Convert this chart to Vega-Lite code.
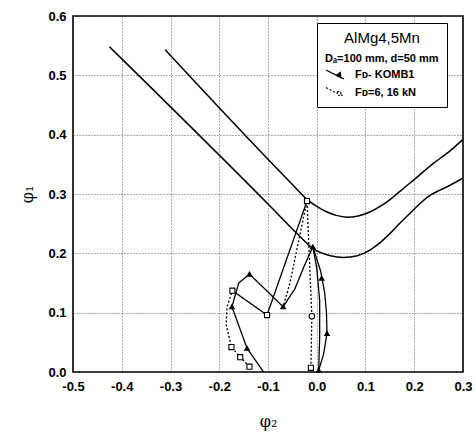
{
  "$schema": "https://vega.github.io/schema/vega-lite/v6.json",
  "width": 390,
  "height": 356,
  "autosize": {"type": "none"},
  "padding": {"left": 73, "top": 16, "right": 13, "bottom": 60},
  "config": {
    "view": {"stroke": "black", "strokeWidth": 1.6},
    "font": "Liberation Sans",
    "locale": {"number": {"decimal": ".", "thousands": ",", "grouping": [3], "currency": ["$", ""], "minus": "-"}},
    "axis": {
      "labelFont": "Liberation Sans",
      "labelFontSize": 13,
      "labelFontWeight": "bold",
      "labelColor": "black",
      "titleFont": "DejaVu Serif",
      "titleFontSize": 16,
      "titleFontWeight": "normal",
      "titleColor": "black",
      "grid": true,
      "gridColor": "#333",
      "gridDash": [1, 2],
      "gridWidth": 1,
      "gridOpacity": 0.8,
      "ticks": false,
      "domain": false
    }
  },
  "datasets": {
    "flc": [
      {"s": "U", "o": 1, "x": -0.311, "y": 0.543},
      {"s": "U", "o": 2, "x": -0.05, "y": 0.316},
      {"s": "U", "o": 3, "x": -0.02, "y": 0.291},
      {"s": "U", "o": 4, "x": 0.0, "y": 0.279},
      {"s": "U", "o": 5, "x": 0.02, "y": 0.270},
      {"s": "U", "o": 6, "x": 0.04, "y": 0.264},
      {"s": "U", "o": 7, "x": 0.062, "y": 0.261},
      {"s": "U", "o": 8, "x": 0.085, "y": 0.263},
      {"s": "U", "o": 9, "x": 0.11, "y": 0.270},
      {"s": "U", "o": 10, "x": 0.13, "y": 0.279},
      {"s": "U", "o": 11, "x": 0.151, "y": 0.291},
      {"s": "U", "o": 12, "x": 0.17, "y": 0.304},
      {"s": "U", "o": 13, "x": 0.192, "y": 0.319},
      {"s": "U", "o": 14, "x": 0.24, "y": 0.352},
      {"s": "U", "o": 15, "x": 0.274, "y": 0.373},
      {"s": "U", "o": 16, "x": 0.30, "y": 0.392},
      {"s": "L", "o": 1, "x": -0.425, "y": 0.548},
      {"s": "L", "o": 2, "x": -0.095, "y": 0.279},
      {"s": "L", "o": 3, "x": -0.04, "y": 0.233},
      {"s": "L", "o": 4, "x": -0.006, "y": 0.207},
      {"s": "L", "o": 5, "x": 0.028, "y": 0.196},
      {"s": "L", "o": 6, "x": 0.055, "y": 0.193},
      {"s": "L", "o": 7, "x": 0.083, "y": 0.196},
      {"s": "L", "o": 8, "x": 0.11, "y": 0.206},
      {"s": "L", "o": 9, "x": 0.13, "y": 0.218},
      {"s": "L", "o": 10, "x": 0.151, "y": 0.234},
      {"s": "L", "o": 11, "x": 0.171, "y": 0.251},
      {"s": "L", "o": 12, "x": 0.192, "y": 0.268},
      {"s": "L", "o": 13, "x": 0.212, "y": 0.284},
      {"s": "L", "o": 14, "x": 0.233, "y": 0.298},
      {"s": "L", "o": 15, "x": 0.254, "y": 0.307},
      {"s": "L", "o": 16, "x": 0.274, "y": 0.315},
      {"s": "L", "o": 17, "x": 0.30, "y": 0.327}
    ],
    "paths": [
      {"s": "T1", "t": "KOMB1", "o": 1, "x": -0.109, "y": 0.0},
      {"s": "T1", "t": "KOMB1", "o": 2, "x": -0.143, "y": 0.040},
      {"s": "T1", "t": "KOMB1", "o": 3, "x": -0.174, "y": 0.110},
      {"s": "T1", "t": "KOMB1", "o": 4, "x": -0.160, "y": 0.150},
      {"s": "T1", "t": "KOMB1", "o": 5, "x": -0.138, "y": 0.165},
      {"s": "T1", "t": "KOMB1", "o": 6, "x": -0.104, "y": 0.138},
      {"s": "T1", "t": "KOMB1", "o": 7, "x": -0.069, "y": 0.110},
      {"s": "T1", "t": "KOMB1", "o": 8, "x": -0.045, "y": 0.140},
      {"s": "T1", "t": "KOMB1", "o": 9, "x": -0.025, "y": 0.180},
      {"s": "T1", "t": "KOMB1", "o": 10, "x": -0.008, "y": 0.211},
      {"s": "T2", "t": "KOMB1", "o": 1, "x": 0.004, "y": 0.003},
      {"s": "T2", "t": "KOMB1", "o": 2, "x": 0.014, "y": 0.030},
      {"s": "T2", "t": "KOMB1", "o": 3, "x": 0.021, "y": 0.065},
      {"s": "T2", "t": "KOMB1", "o": 4, "x": 0.020, "y": 0.100},
      {"s": "T2", "t": "KOMB1", "o": 5, "x": 0.016, "y": 0.135},
      {"s": "T2", "t": "KOMB1", "o": 6, "x": 0.008, "y": 0.170},
      {"s": "T2", "t": "KOMB1", "o": 7, "x": -0.008, "y": 0.211},
      {"s": "T3", "t": "KOMB1", "o": 1, "x": 0.004, "y": 0.003},
      {"s": "T3", "t": "KOMB1", "o": 2, "x": 0.006, "y": 0.060},
      {"s": "T3", "t": "KOMB1", "o": 3, "x": 0.006, "y": 0.120},
      {"s": "T3", "t": "KOMB1", "o": 4, "x": 0.0, "y": 0.175},
      {"s": "T3", "t": "KOMB1", "o": 5, "x": -0.008, "y": 0.211},
      {"s": "C1", "t": "KOMB1", "o": 1, "x": -0.173, "y": 0.137},
      {"s": "C1", "t": "KOMB1", "o": 2, "x": -0.102, "y": 0.096},
      {"s": "C1", "t": "KOMB1", "o": 3, "x": -0.020, "y": 0.288},
      {"s": "Q1", "t": "6.16", "o": 1, "x": -0.138, "y": 0.009},
      {"s": "Q1", "t": "6.16", "o": 2, "x": -0.157, "y": 0.025},
      {"s": "Q1", "t": "6.16", "o": 3, "x": -0.175, "y": 0.042},
      {"s": "Q1", "t": "6.16", "o": 4, "x": -0.186, "y": 0.080},
      {"s": "Q1", "t": "6.16", "o": 5, "x": -0.184, "y": 0.110},
      {"s": "Q1", "t": "6.16", "o": 6, "x": -0.173, "y": 0.137},
      {"s": "Q2", "t": "6.16", "o": 1, "x": -0.012, "y": 0.007},
      {"s": "Q2", "t": "6.16", "o": 2, "x": -0.010, "y": 0.094},
      {"s": "Q2", "t": "6.16", "o": 3, "x": -0.015, "y": 0.190},
      {"s": "Q2", "t": "6.16", "o": 4, "x": -0.020, "y": 0.288},
      {"s": "Q3", "t": "6.16", "o": 1, "x": -0.020, "y": 0.288},
      {"s": "Q3", "t": "6.16", "o": 2, "x": -0.040, "y": 0.210},
      {"s": "Q3", "t": "6.16", "o": 3, "x": -0.055, "y": 0.150},
      {"s": "Q3", "t": "6.16", "o": 4, "x": -0.069, "y": 0.110}
    ],
    "marks": [
      {"m": "tri", "x": -0.143, "y": 0.040},
      {"m": "tri", "x": -0.174, "y": 0.110},
      {"m": "tri", "x": -0.138, "y": 0.165},
      {"m": "tri", "x": -0.069, "y": 0.110},
      {"m": "tri", "x": -0.008, "y": 0.211},
      {"m": "tri", "x": 0.004, "y": 0.003},
      {"m": "tri", "x": 0.021, "y": 0.065},
      {"m": "tri", "x": 0.010, "y": 0.158},
      {"m": "sq", "x": -0.020, "y": 0.288},
      {"m": "sq", "x": -0.173, "y": 0.137},
      {"m": "sq", "x": -0.102, "y": 0.096},
      {"m": "sq", "x": -0.175, "y": 0.042},
      {"m": "sq", "x": -0.157, "y": 0.025},
      {"m": "sq", "x": -0.138, "y": 0.009},
      {"m": "sq", "x": -0.012, "y": 0.007},
      {"m": "circ", "x": -0.010, "y": 0.094}
    ]
  },
  "layer": [
    {
      "data": {"name": "flc"},
      "mark": {"type": "line", "color": "black", "strokeWidth": 1.5, "interpolate": "monotone"},
      "encoding": {
        "x": {
          "field": "x", "type": "quantitative",
          "scale": {"domain": [-0.5, 0.3], "nice": false, "zero": false},
          "axis": {"values": [-0.5, -0.4, -0.3, -0.2, -0.1, 0.0, 0.1, 0.2, 0.3], "format": ".1f", "title": "φ₂", "labelPadding": 8, "titlePadding": 20, "labelFlush": false}
        },
        "y": {
          "field": "y", "type": "quantitative",
          "scale": {"domain": [0, 0.6], "nice": false},
          "axis": {"values": [0, 0.1, 0.2, 0.3, 0.4, 0.5, 0.6], "format": ".1f", "title": "φ₁", "labelPadding": 7, "titlePadding": 12, "labelFlush": false}
        },
        "detail": {"field": "s"},
        "order": {"field": "o"}
      }
    },
    {
      "data": {"name": "paths"},
      "mark": {"type": "line", "color": "black", "strokeWidth": 1.3},
      "encoding": {
        "x": {"field": "x", "type": "quantitative"},
        "y": {"field": "y", "type": "quantitative"},
        "detail": {"field": "s"},
        "order": {"field": "o"},
        "strokeDash": {
          "field": "t", "type": "nominal",
          "scale": {"domain": ["D", "KOMB1", "6.16"], "range": [[1, 0], [1, 0], [2, 2]]},
          "legend": {
            "orient": "none",
            "legendX": 244,
            "legendY": 7,
            "title": "AlMg4,5Mn",
            "titleFont": "Liberation Sans",
            "titleFontSize": 15,
            "titleFontWeight": "normal",
            "titleColor": "black",
            "titleAnchor": "middle",
            "titlePadding": 3,
            "labelExpr": "datum.value == 'D' ? 'Dₐ=100 mm, d=50 mm' : datum.value == 'KOMB1' ? 'Fᴅ- KOMB1' : 'Fᴅ=6, 16 kN'",
            "labelFont": "Liberation Sans",
            "labelFontSize": 11,
            "labelFontWeight": "bold",
            "labelColor": "black",
            "labelOffset": 10,
            "strokeColor": "black",
            "fillColor": "white",
            "padding": 8,
            "rowPadding": 1,
            "symbolSize": 320,
            "symbolStrokeWidth": 1.2,
            "symbolStrokeColor": "black",
            "symbolType": "M-1,-0.5L1,0.5",
            "encoding": {
              "symbols": {
                "shape": {"value": {"signal": "datum.value === 'KOMB1' ? 'M-1,-0.55L1,0.45M0.15,0.05L0.6,-0.3L0.65,0.3Z' : 'M-1,-0.6L0.25,0.05M0.25,-0.15L0.65,-0.15L0.65,0.25L0.25,0.25ZM0.65,0.2L1,0.35'"}},
                "fill": {"value": {"signal": "datum.value === 'KOMB1' ? 'black' : 'transparent'"}},
                "stroke": {"value": "black"},
                "strokeWidth": {"value": 1.2},
                "opacity": {"value": {"signal": "datum.value === 'D' ? 0 : 1"}}
              },
              "labels": {
                "dx": {"value": {"signal": "datum.value === 'D' ? -30 : 0"}}
              }
            }
          }
        }
      }
    },
    {
      "data": {"name": "marks"},
      "mark": {"type": "point", "filled": true, "stroke": "black", "strokeWidth": 1.1, "opacity": 1},
      "encoding": {
        "x": {"field": "x", "type": "quantitative"},
        "y": {"field": "y", "type": "quantitative"},
        "shape": {"field": "m", "type": "nominal", "scale": {"domain": ["tri", "sq", "circ"], "range": ["triangle-up", "square", "circle"]}, "legend": null},
        "fill": {"field": "m", "type": "nominal", "scale": {"domain": ["tri", "sq", "circ"], "range": ["black", "white", "white"]}, "legend": null},
        "size": {"field": "m", "type": "nominal", "scale": {"domain": ["tri", "sq", "circ"], "range": [22, 30, 30]}, "legend": null}
      }
    }
  ]
}
